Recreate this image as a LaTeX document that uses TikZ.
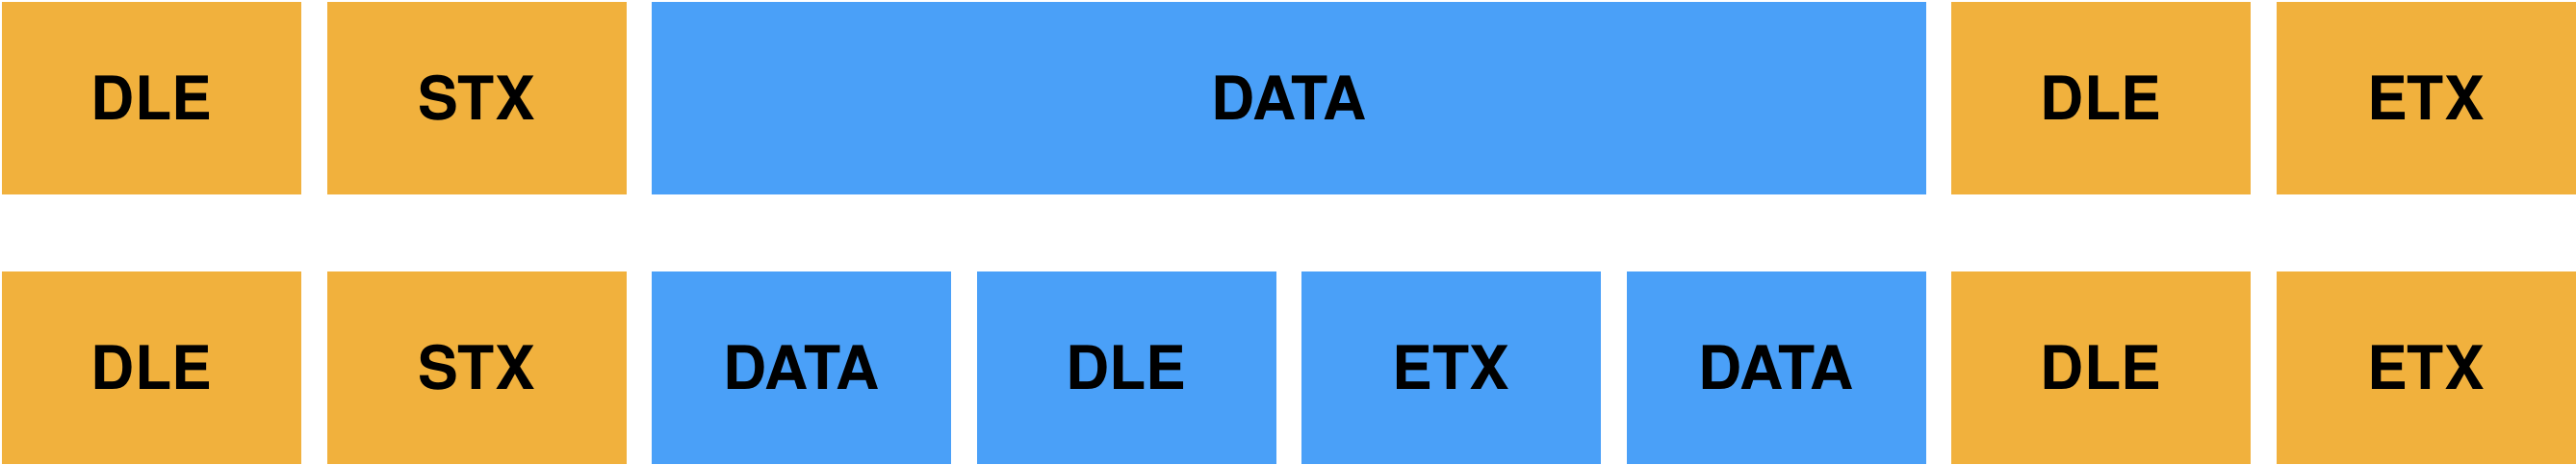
\documentclass[tikz,border=0pt]{standalone}
\usepackage{fontspec}
\setmainfont{TeX Gyre Heros}
\definecolor{ctrlorange}{RGB}{241,177,61}
\definecolor{datablue}{RGB}{74,160,248}
\begin{document}
\begin{tikzpicture}[
	byte/.style={rectangle, inner sep=0pt, minimum width=3.11cm, minimum height=2cm,
		font=\fontsize{17.8}{20}\selectfont\bfseries},
	ctrl/.style={byte, fill=ctrlorange},
	data/.style={byte, fill=datablue}]
	\useasboundingbox (0,0) rectangle (26.76,4.82);
	% Define the frame before stuffing
	\node[ctrl] (t1) at (1.575, 3.8) {DLE};
	\node[ctrl] (t2) at (4.95, 3.8) {STX};
	\node[data, minimum width=13.235cm] (t3) at (13.3875, 3.8) {DATA};
	\node[ctrl] (t4) at (21.825, 3.8) {DLE};
	\node[ctrl] (t5) at (25.2, 3.8) {ETX};

	% Define the frame after stuffing
	\node[ctrl] (b1) at (1.575, 1.0) {DLE};
	\node[ctrl] (b2) at (4.95, 1.0) {STX};
	\node[data] (b3) at (8.325, 1.0) {DATA};
	\node[data] (b4) at (11.7, 1.0) {DLE};
	\node[data] (b5) at (15.075, 1.0) {ETX};
	\node[data] (b6) at (18.45, 1.0) {DATA};
	\node[ctrl] (b7) at (21.825, 1.0) {DLE};
	\node[ctrl] (b8) at (25.2, 1.0) {ETX};
\end{tikzpicture}
\end{document}
